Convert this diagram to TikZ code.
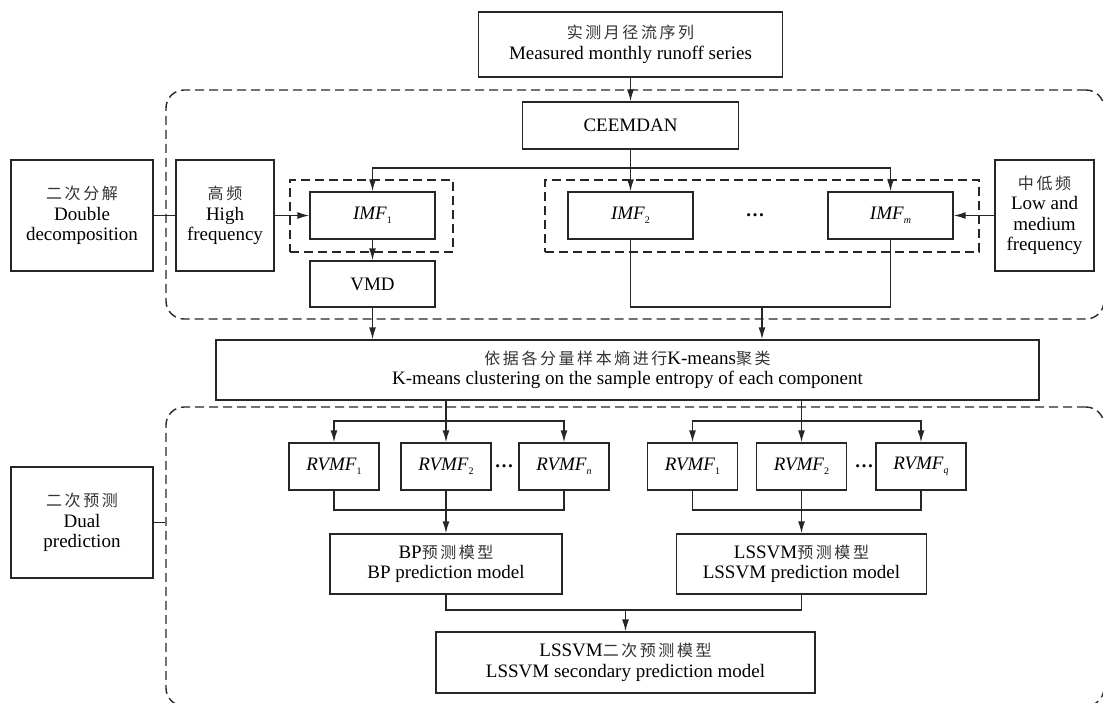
\documentclass[tikz,border=0pt]{standalone}
\usepackage{fontspec}
\setmainfont{Liberation Serif}
\newfontfamily\cjk[LetterSpace=16]{Noto Sans CJK SC}
\usetikzlibrary{arrows.meta}
\newcommand\zh[1]{{\cjk\fontsize{16}{20}\selectfont\color{black!80}#1}}
\newcommand\lowidx[1]{\raisebox{-4pt}{\fontsize{10}{10}\selectfont#1}}
\newcommand\imfx[1]{\textit{IMF}\lowidx{#1}}
\newcommand\rvmf[1]{\textit{RVMF}\lowidx{#1}}
\begin{document}
\begin{tikzpicture}[x=1pt,y=-1pt,
  box/.style={draw=black!85,line width=1.4pt,align=center,inner sep=0pt,font=\fontsize{19}{20.5}\selectfont},
  grp/.style={draw=black!85,line width=1.4pt,dash pattern=on 9pt off 5pt,inner sep=0pt},
  region/.style={grp,rounded corners=18pt},
  ln/.style={line width=1.4pt,draw=black!85},
  arr/.style={ln,-{Latex[length=12pt,width=7pt]}},
  dotsnode/.style={inner sep=0pt,font=\fontsize{19}{20}\selectfont\bfseries}]
\useasboundingbox (0,0) rectangle (1103,702);
\clip (0,0) rectangle (1103,702);
% top part
\node[box,minimum width=304pt,minimum height=65pt] (top) at (630.5,44.5) {\zh{实测月径流序列}\\Measured monthly runoff series};
\node[region,minimum width=938pt,minimum height=229pt] (reg1) at (635,204.5) {};
\node[box,minimum width=216pt,minimum height=47pt] (cee) at (630.5,125.5) {CEEMDAN};
\node[box,minimum width=142pt,minimum height=111pt] (dd) at (82,215.5) {\zh{二次分解}\\Double\\decomposition};
\node[box,minimum width=98pt,minimum height=111pt] (hf) at (225,215.5) {\zh{高频}\\High\\frequency};
\node[grp,minimum width=163pt,minimum height=72pt] (g1) at (371.5,216) {};
\node[box,minimum width=125pt,minimum height=47pt] (imf1) at (372.5,215.5) {\imfx{1}};
\node[box,minimum width=125pt,minimum height=46pt] (vmd) at (372.5,284) {VMD};
\node[grp,minimum width=434pt,minimum height=72pt] (g2) at (762,216) {};
\node[box,minimum width=125pt,minimum height=47pt] (imf2) at (630.5,215.5) {\imfx{2}};
\node[dotsnode] (dots1) at (755,215.5) {…};
\node[box,minimum width=125pt,minimum height=47pt] (imfm) at (890.5,215.5) {\imfx{\textit{m}}};
\node[box,minimum width=99pt,minimum height=111pt] (low) at (1044.5,215.5) {\zh{中低频}\\Low and\\medium\\frequency};
% middle
\node[box,minimum width=823pt,minimum height=60pt] (km) at (627.5,370) {\zh{依据各分量样本熵进行}K-means\zh{聚类}\\K-means clustering on the sample entropy of each component};
% bottom part
\node[region,minimum width=938pt,minimum height=299pt] (reg2) at (635,556.5) {};
\node[box,minimum width=142pt,minimum height=111pt] (dp) at (82,522.5) {\zh{二次预测}\\Dual\\prediction};
\node[box,minimum width=90pt,minimum height=47pt] (rL1) at (334,466.5) {\rvmf{1}};
\node[box,minimum width=90pt,minimum height=47pt] (rL2) at (446,466.5) {\rvmf{2}};
\node[dotsnode] (dots2) at (504,466.5) {…};
\node[box,minimum width=90pt,minimum height=47pt] (rLn) at (564,466.5) {\rvmf{\textit{n}}};
\node[box,minimum width=90pt,minimum height=47pt] (rR1) at (692.5,466.5) {\rvmf{1}};
\node[box,minimum width=90pt,minimum height=47pt] (rR2) at (801.5,466.5) {\rvmf{2}};
\node[dotsnode] (dots3) at (864,466.5) {…};
\node[box,minimum width=90pt,minimum height=47pt] (rRq) at (921,466.5) {\rvmf{\textit{q}}};
\node[box,minimum width=232pt,minimum height=60pt] (bp) at (446,564) {BP\zh{预测模型}\\BP prediction model};
\node[box,minimum width=250pt,minimum height=60pt] (ls) at (801.5,564) {LSSVM\zh{预测模型}\\LSSVM prediction model};
\node[box,minimum width=379pt,minimum height=61pt] (fin) at (625.5,662.5) {LSSVM\zh{二次预测模型}\\LSSVM secondary prediction model};
% connectors top
\coordinate (b1) at (630.5,168);
\draw[arr] (top) -- (cee);
\draw[arr] (cee) -- (imf2);
\draw[arr] (b1) -| (imf1.north);
\draw[arr] (b1) -| (imfm.north);
\draw[ln] (dd) -- (hf);
\draw[arr] (hf) -- (imf1);
\draw[arr] (low) -- (imfm);
\draw[arr] (imf1) -- (vmd);
\draw[arr] (vmd.south) -- (vmd.south |- km.north);
\coordinate (m1) at (762,307);
\draw[ln] (imf2.south) |- (m1) -| (imfm.south);
\draw[arr] (m1) -- (m1 |- km.north);
% connectors bottom
\draw[arr] (km.south -| rL2.north) -- (rL2.north);
\coordinate (b2) at (446,421);
\draw[arr] (b2) -| (rL1.north);
\draw[arr] (b2) -| (rLn.north);
\draw[arr] (km.south -| rR2.north) -- (rR2.north);
\coordinate (b3) at (801.5,421);
\draw[arr] (b3) -| (rR1.north);
\draw[arr] (b3) -| (rRq.north);
\coordinate (m2) at (446,510);
\draw[ln] (rL1.south) |- (m2) -| (rLn.south);
\draw[arr] (rL2) -- (bp);
\coordinate (m3) at (801.5,510);
\draw[ln] (rR1.south) |- (m3) -| (rRq.south);
\draw[arr] (rR2) -- (ls);
\coordinate (m4) at (625.5,610);
\draw[ln] (bp.south) |- (m4) -| (ls.south);
\draw[arr] (m4) -- (fin);
\draw[ln] (dp) -- (dp -| reg2.west);
\end{tikzpicture}
\end{document}
